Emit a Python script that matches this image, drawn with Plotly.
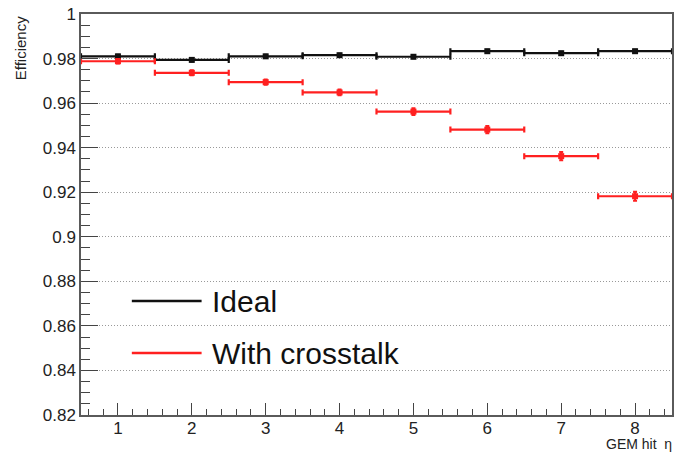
import plotly.graph_objects as go

# ---- data ----
eta_bins = [1, 2, 3, 4, 5, 6, 7, 8]
bin_half_width = 0.5
ideal_eff = [0.9810, 0.9794, 0.9810, 0.9815, 0.9808, 0.9833, 0.9824, 0.9833]
ideal_err = [0.0007, 0.0007, 0.0007, 0.0007, 0.0007, 0.0007, 0.0007, 0.0007]
xtalk_eff = [0.9788, 0.9736, 0.9694, 0.9648, 0.9562, 0.9481, 0.9362, 0.9182]
xtalk_err = [0.0010, 0.0011, 0.0012, 0.0013, 0.0015, 0.0016, 0.0018, 0.0020]
y_tickvals = [0.82, 0.84, 0.86, 0.88, 0.90, 0.92, 0.94, 0.96, 0.98, 1.0]
y_ticktext = ["0.82", "0.84", "0.86", "0.88", "0.9", "0.92", "0.94", "0.96", "0.98", "1"]
x_tickvals = [1, 2, 3, 4, 5, 6, 7, 8]
x_ticktext = ["1", "2", "3", "4", "5", "6", "7", "8"]
series_names = ["Ideal", "With crosstalk"]
series_colors = ["#111111", "#ff2020"]

FONT = "Liberation Sans, Arial, Helvetica, sans-serif"
W, H = 676, 453
L, R, T, B = 81, 2, 14, 38

fig = go.Figure()
for name, ys, es, col in [(series_names[0], ideal_eff, ideal_err, series_colors[0]),
                          (series_names[1], xtalk_eff, xtalk_err, series_colors[1])]:
    fig.add_trace(go.Scatter(
        x=eta_bins, y=ys, mode="markers", name=name, showlegend=False,
        marker=dict(symbol="square", size=6, color=col),
        error_x=dict(type="constant", value=bin_half_width, color=col, thickness=2.2, width=3),
        error_y=dict(type="data", array=es, color=col, thickness=2, width=2),
    ))

fig.update_layout(
    width=W, height=H,
    margin=dict(l=L, r=R, t=T, b=B),
    paper_bgcolor="white", plot_bgcolor="white",
    font=dict(family=FONT, color="#222222"),
)
fig.update_xaxes(
    range=[0.5, 8.5], tickvals=x_tickvals, ticktext=x_ticktext,
    ticks="inside", ticklen=12, tickwidth=1, tickcolor="#444444",
    minor=dict(ticks="inside", ticklen=6, dtick=0.2, tick0=0, tickcolor="#444444", showgrid=False),
    showline=True, linecolor="#5a5a5a", linewidth=1.5, mirror=True,
    showgrid=False, zeroline=False, ticklabelstandoff=-3,
    tickfont=dict(size=17, family=FONT, color="#222222"),
)
fig.update_yaxes(
    range=[0.82, 1.0], tickvals=y_tickvals, ticktext=y_ticktext,
    ticks="inside", ticklen=17, tickwidth=1, tickcolor="#444444",
    minor=dict(ticks="inside", ticklen=9, dtick=0.005, tick0=0.82, tickcolor="#444444", showgrid=False),
    showline=True, linecolor="#5a5a5a", linewidth=1.5, mirror=True,
    showgrid=True, gridcolor="#999999", griddash="1px,2px", gridwidth=1,
    zeroline=False,
    tickfont=dict(size=17, family=FONT, color="#222222"),
)

pw = W - L - R
ph = H - T - B
def px_x(p):
    return (p - L) / pw
def px_y(p):
    return (H - B - p) / ph

fig.add_annotation(text="Efficiency", xref="paper", yref="paper",
                   x=px_x(20), y=1.0, xanchor="center", yanchor="top",
                   textangle=-90, showarrow=False,
                   font=dict(size=15, family=FONT, color="#222222"))
fig.add_annotation(text="GEM hit  η", xref="paper", yref="paper",
                   x=px_x(675), y=px_y(453), xanchor="right", yanchor="bottom",
                   showarrow=False, borderpad=0,
                   font=dict(size=14, family=FONT, color="#222222"))

# manual legend
for i, (name, col) in enumerate(zip(series_names, series_colors)):
    yy = px_y(301 + i * 52)
    fig.add_shape(type="line", xref="paper", yref="paper",
                  x0=px_x(132), x1=px_x(202), y0=yy, y1=yy,
                  line=dict(color=col, width=2.5))
    fig.add_annotation(text=name, xref="paper", yref="paper",
                       x=px_x(210), y=yy, xanchor="left", yanchor="middle",
                       showarrow=False, font=dict(size=30, family=FONT, color="#111111"))

fig.write_html("out.html", config={"displayModeBar": False},
               post_script="document.body.style.margin='0';document.body.style.overflow='hidden';")
